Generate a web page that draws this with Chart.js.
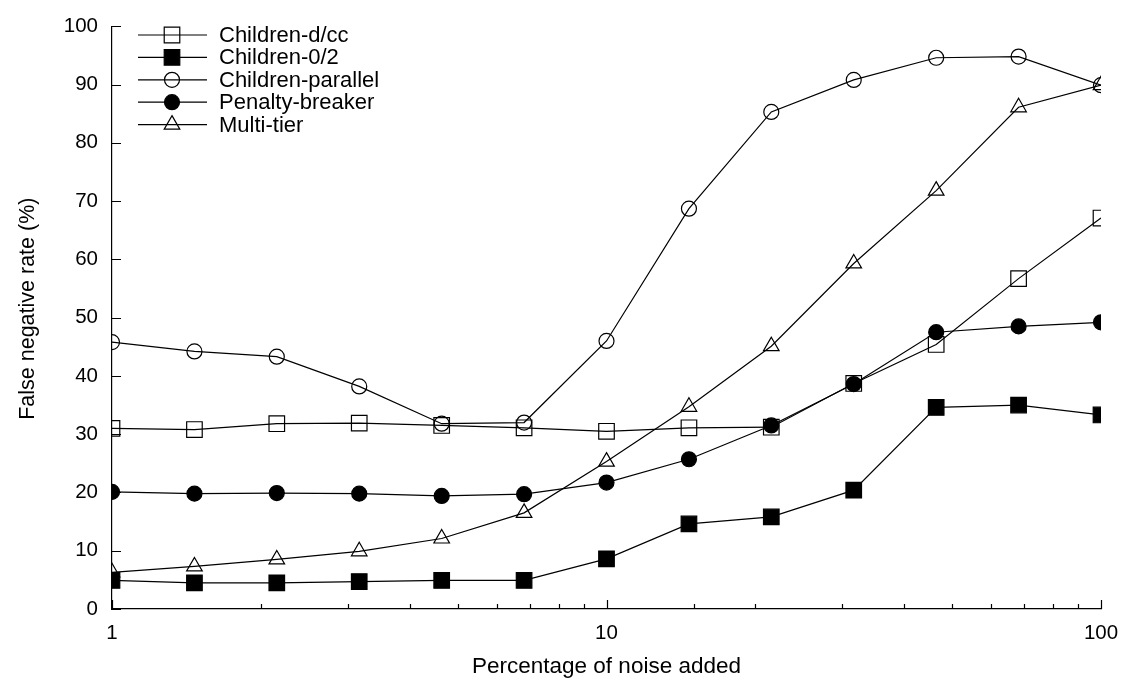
<!DOCTYPE html>
<html>
<head>
<meta charset="utf-8">
<script src="https://cdn.jsdelivr.net/npm/chart.js@4"></script>
<style>
  html, body { margin: 0; padding: 0; background: #fff; }
  #wrap { width: 1134px; height: 681px; }
</style>
</head>
<body>
<div id="wrap"><canvas id="myChart"></canvas></div>
<script>
// percentage of noise added (x, log scale)
var noise = [1, 1.468, 2.154, 3.162, 4.642, 6.813, 10, 14.68, 21.54, 31.62, 46.42, 68.13, 100];

var seriesNames = ["Children-d/cc", "Children-0/2", "Children-parallel", "Penalty-breaker", "Multi-tier"];
var childrenDcc      = [31.0, 30.8, 31.8, 31.9, 31.5, 31.1, 30.5, 31.1, 31.2, 38.7, 45.4, 56.7, 67.1];
var children02       = [4.9, 4.5, 4.5, 4.7, 4.9, 4.9, 8.6, 14.6, 15.8, 20.4, 34.6, 35.0, 33.3];
var childrenParallel = [45.8, 44.2, 43.3, 38.2, 31.8, 32.0, 46.0, 68.7, 85.3, 90.8, 94.6, 94.8, 89.9];
var penaltyBreaker   = [20.1, 19.8, 19.9, 19.8, 19.4, 19.7, 21.7, 25.7, 31.5, 38.6, 47.5, 48.5, 49.2];
var multiTier        = [6.3, 7.3, 8.5, 9.9, 12.1, 16.5, 25.3, 34.7, 45.1, 59.3, 71.8, 86.1, 89.9];

var xLabels = [1, 10, 100];
var yTicks = [0, 10, 20, 30, 40, 50, 60, 70, 80, 90, 100];

var FONT = "'Liberation Sans', Arial, Helvetica, sans-serif";

function pts(vals) {
  return vals.map(function (v, i) { return { x: noise[i], y: v }; });
}

function makeSet(label, vals, style, filled, r) {
  return {
    label: label,
    data: pts(vals),
    borderColor: "#000",
    borderWidth: 1.2,
    pointStyle: style,
    pointRadius: r,
    pointHoverRadius: r,
    pointBorderColor: "#000",
    pointBorderWidth: 1.2,
    pointBackgroundColor: filled ? "#000" : "rgba(0,0,0,0)",
    tension: 0,
    fill: false
  };
}

var datasets = [
  makeSet(seriesNames[0], childrenDcc, "rect", false, 11),
  makeSet(seriesNames[1], children02, "rect", true, 11),
  makeSet(seriesNames[2], childrenParallel, "circle", false, 7.5),
  makeSet(seriesNames[3], penaltyBreaker, "circle", true, 7.5),
  makeSet(seriesNames[4], multiTier, "triangle", false, 9)
];

// inward tick marks + legend drawn inside the plot
var decorPlugin = {
  id: "decor",
  afterDraw: function (chart) {
    var ctx = chart.ctx;
    var xs = chart.scales.x, ys = chart.scales.y;
    var area = chart.chartArea;
    ctx.save();
    ctx.strokeStyle = "#000";
    ctx.lineWidth = 1.2;
    ctx.beginPath();
    xs.ticks.forEach(function (t) {
      var px = Math.round(xs.getPixelForValue(t.value)) + 0.5;
      var len = xLabels.indexOf(t.value) >= 0 ? 9 : 5;
      ctx.moveTo(px, area.bottom);
      ctx.lineTo(px, area.bottom - len);
    });
    yTicks.forEach(function (v) {
      var py = Math.round(ys.getPixelForValue(v)) + 0.5;
      ctx.moveTo(area.left, py);
      ctx.lineTo(area.left + 9, py);
    });
    ctx.stroke();

    // legend
    var lx0 = 138, lx1 = 207, mx = 172, tx = 219, y0 = 35, dy = 22.4;
    ctx.font = "22px " + FONT;
    ctx.textBaseline = "middle";
    ctx.textAlign = "left";
    chart.data.datasets.forEach(function (ds, i) {
      var y = y0 + i * dy;
      ctx.strokeStyle = "#000";
      ctx.lineWidth = 1.2;
      ctx.beginPath();
      ctx.moveTo(lx0, y);
      ctx.lineTo(lx1, y);
      ctx.stroke();
      ctx.fillStyle = ds.pointBackgroundColor;
      Chart.helpers.drawPoint(ctx, {
        pointStyle: ds.pointStyle,
        radius: ds.pointRadius,
        rotation: 0,
        borderWidth: 1.2
      }, mx, y);
      ctx.fillStyle = "#000";
      ctx.fillText(ds.label, tx, y + 1);
    });
    ctx.restore();
  }
};

var ctx = document.getElementById("myChart");

var myChart = new Chart(ctx, {
  type: "line",
  data: { datasets: datasets },
  plugins: [decorPlugin],
  options: {
    responsive: true,
    maintainAspectRatio: false,
    animation: false,
    layout: { padding: { left: 0, top: 14, right: 33, bottom: 0 } },
    plugins: {
      legend: { display: false },
      tooltip: { enabled: false }
    },
    scales: {
      x: {
        type: "logarithmic",
        min: 1,
        max: 100,
        afterFit: function (scale) { scale.height = 72; },
        grid: { drawOnChartArea: false, drawTicks: false },
        border: { display: true, color: "#000", width: 1.2 },
        ticks: {
          autoSkip: false,
          maxRotation: 0,
          padding: 12,
          color: "#000",
          font: { family: FONT, size: 20.5 },
          callback: function (v) { return xLabels.indexOf(v) >= 0 ? String(v) : ""; }
        },
        title: {
          display: true,
          text: "Percentage of noise added",
          color: "#000",
          font: { family: FONT, size: 22.5 },
          padding: { top: 0, bottom: 1 }
        }
      },
      y: {
        min: 0,
        max: 100,
        afterFit: function (scale) { scale.width = 112; },
        grid: { drawOnChartArea: false, drawTicks: false },
        border: { display: true, color: "#000", width: 1.2 },
        ticks: {
          stepSize: 10,
          padding: 14,
          color: "#000",
          font: { family: FONT, size: 20.5 }
        },
        title: {
          display: true,
          text: "\u00a0\u00a0\u00a0False negative rate (%)",
          color: "#000",
          font: { family: FONT, size: 21.5 },
          padding: { top: 15, bottom: 0 }
        }
      }
    }
  }
});
</script>
</body>
</html>
